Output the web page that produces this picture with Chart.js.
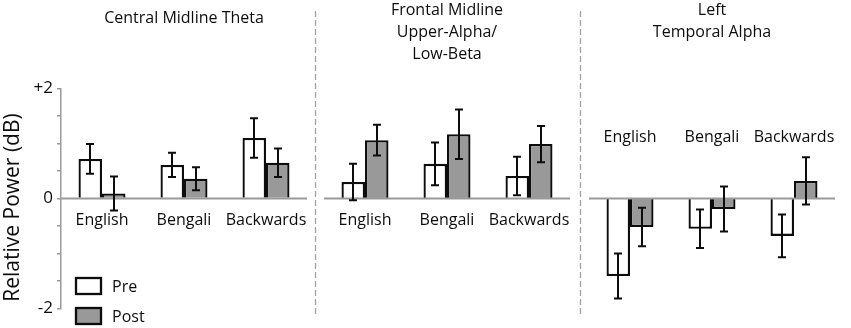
<!DOCTYPE html>
<html><head><meta charset="utf-8">
<script src="https://cdn.jsdelivr.net/npm/chart.js@4/dist/chart.umd.min.js"></script>
<style>
html,body{margin:0;padding:0;background:#fff;}
#wrap{position:relative;width:851px;height:328px;background:#fff;}
#wrap canvas{position:absolute;left:0;top:0;}
</style></head><body>
<div id="wrap">
<canvas id="c1" width="851" height="328"></canvas>
<canvas id="c2" width="851" height="328"></canvas>
<canvas id="c3" width="851" height="328"></canvas>
</div>
<script>
// ---- data ----
const categories = ['English', 'Bengali', 'Backwards'];
const seriesNames = ['Pre', 'Post'];
const panelTitles = [['Central Midline Theta'], ['Frontal Midline', 'Upper-Alpha/', 'Low-Beta'], ['Left', 'Temporal Alpha']];
const yAxisTitle = 'Relative Power (dB)';
const yTickLabels = { '2': '+2', '0': '0', '-2': '-2' };

const thetaPre = [0.72, 0.61, 1.10];
const thetaPreErr = [0.27, 0.22, 0.36];
const thetaPost = [0.09, 0.36, 0.65];
const thetaPostErr = [0.31, 0.21, 0.26];

const frontalPre = [0.30, 0.63, 0.41];
const frontalPreErr = [0.33, 0.39, 0.35];
const frontalPost = [1.06, 1.17, 0.99];
const frontalPostErr = [0.28, 0.45, 0.33];

const temporalPre = [-1.41, -0.55, -0.68];
const temporalPreErr = [0.41, 0.35, 0.39];
const temporalPost = [-0.52, -0.19, 0.32];
const temporalPostErr = [0.35, 0.41, 0.43];

// ---- styling ----
const FONT = "'Open Sans', 'Noto Sans', sans-serif";
const INK = '#0d0d0d';
const GRAY_FILL = '#999999';
const LINE_GRAY = '#9a9a9a';

Chart.defaults.font.family = FONT;
Chart.defaults.color = INK;

const errorBarsPlugin = {
  id: 'errorBars',
  afterDatasetsDraw(chart, args, o) {
    const ctx = chart.ctx, ys = chart.scales.y, area = chart.chartArea;
    const z = ys.getPixelForValue(0);
    ctx.save();
    ctx.strokeStyle = o.zeroColor; ctx.lineWidth = o.zeroWidth;
    ctx.beginPath(); ctx.moveTo(area.left, z); ctx.lineTo(area.right, z); ctx.stroke();
    ctx.strokeStyle = o.color; ctx.lineWidth = o.width; ctx.lineCap = 'butt';
    chart.data.datasets.forEach((ds, i) => {
      const meta = chart.getDatasetMeta(i);
      meta.data.forEach((bar, j) => {
        const v = ds.data[j], e = ds.errors[j];
        const t = ys.getPixelForValue(v + e), b = ys.getPixelForValue(v - e);
        const x = Math.round(bar.x);
        ctx.beginPath();
        ctx.moveTo(x, t); ctx.lineTo(x, b);
        ctx.moveTo(x - o.cap, t); ctx.lineTo(x + o.cap, t);
        ctx.moveTo(x - o.cap, b); ctx.lineTo(x + o.cap, b);
        ctx.stroke();
      });
    });
    ctx.restore();
  }
};

const separatorPlugin = {
  id: 'separator',
  afterDraw(chart, args, o) {
    if (!o.display) return;
    const ctx = chart.ctx;
    const x = chart.chartArea.left - o.offset;
    ctx.save();
    ctx.strokeStyle = o.color; ctx.lineWidth = o.width; ctx.setLineDash(o.dash);
    ctx.beginPath(); ctx.moveTo(x, o.top); ctx.lineTo(x, o.bottom); ctx.stroke();
    ctx.restore();
  }
};

const yTitlePlugin = {
  id: 'yTitle',
  afterDraw(chart, args, o) {
    if (!o.display) return;
    const ctx = chart.ctx, area = chart.chartArea;
    ctx.save();
    ctx.font = o.fontSize + 'px ' + FONT;
    ctx.fillStyle = INK;
    ctx.textAlign = 'center';
    ctx.textBaseline = 'middle';
    ctx.translate(o.x, (area.top + area.bottom) / 2 + o.shift);
    ctx.rotate(-Math.PI / 2);
    ctx.fillText(o.text, 0, 0);
    ctx.restore();
  }
};

const boxLegendPlugin = {
  id: 'boxLegend',
  afterDraw(chart, args, o) {
    if (!o.display) return;
    const ctx = chart.ctx;
    ctx.save();
    ctx.font = o.fontSize + 'px ' + FONT;
    ctx.textBaseline = 'middle';
    ctx.textAlign = 'left';
    chart.data.datasets.forEach((ds, i) => {
      const x = o.x, y = o.y + i * o.rowGap;
      ctx.fillStyle = ds.backgroundColor;
      ctx.fillRect(x, y, o.boxW, o.boxH);
      ctx.strokeStyle = ds.borderColor; ctx.lineWidth = ds.borderWidth;
      ctx.strokeRect(x + 1, y + 1, o.boxW - 2, o.boxH - 2);
      ctx.fillStyle = INK;
      ctx.fillText(ds.label, x + o.boxW + o.gap, y + o.boxH / 2 + 1);
    });
    ctx.restore();
  }
};

function makeDatasets(pre, preErr, post, postErr) {
  return [
    { label: seriesNames[0], data: pre, errors: preErr, backgroundColor: '#ffffff', borderColor: INK, borderWidth: 2.3,
      categoryPercentage: 0.573, barPercentage: 1.0 },
    { label: seriesNames[1], data: post, errors: postErr, backgroundColor: GRAY_FILL, borderColor: INK, borderWidth: 2.3,
      categoryPercentage: 0.573, barPercentage: 1.0 }
  ];
}

function makeChart(id, cfg) {
  const showY = !!cfg.showY;
  return new Chart(document.getElementById(id), {
    type: 'bar',
    data: { labels: categories, datasets: makeDatasets(...cfg.series) },
    plugins: [errorBarsPlugin, separatorPlugin, boxLegendPlugin, yTitlePlugin],
    options: {
      responsive: false,
      animation: false,
      devicePixelRatio: 1,
      layout: { padding: cfg.padding },
      scales: {
        x: {
          type: 'category',
          position: { y: cfg.labelAt },
          offset: true,
          grid: { display: false, drawTicks: false, tickLength: 0 },
          border: { display: false },
          ticks: { font: { size: 16 }, color: INK, padding: 12, maxRotation: 0, autoSkip: false }
        },
        y: {
          min: -2, max: 2,
          display: showY,
          afterFit: showY ? (s) => { s.width = 61; } : undefined,
          ticks: { stepSize: 0.5, autoSkip: false, font: { size: 17 }, color: INK, padding: 4,
                   callback: (v) => (yTickLabels[v] !== undefined ? yTickLabels[v] : '') },
          grid: { drawOnChartArea: false, drawTicks: true, tickLength: 4, color: LINE_GRAY, tickColor: LINE_GRAY, lineWidth: 1.5 },
          border: { display: true, color: LINE_GRAY, width: 1.5 },
          title: { display: false }
        }
      },
      plugins: {
        legend: { display: false },
        tooltip: { enabled: false },
        title: {
          display: true, text: cfg.title, fullSize: false, position: 'top',
          font: { size: 16, weight: 'normal', lineHeight: 1.35 }, color: INK,
          padding: cfg.titlePad
        },
        errorBars: { color: INK, width: 2, cap: 4, zeroColor: LINE_GRAY, zeroWidth: 2 },
        separator: { display: !!cfg.separator, offset: 8.5, top: 11, bottom: 315, color: '#a0a0a0', width: 1.3, dash: [6, 3] },
        boxLegend: { display: !!cfg.legend, x: 75, y: 277, boxW: 27, boxH: 18, rowGap: 30, gap: 10, fontSize: 16 },
        yTitle: { display: showY, text: yAxisTitle, x: 13, shift: 9, fontSize: 21 }
      }
    }
  });
}

makeChart('c1', {
  series: [thetaPre, thetaPreErr, thetaPost, thetaPostErr],
  title: panelTitles[0], titlePad: { top: 8, bottom: 58.9 },
  padding: { left: 0, right: 544, top: 0, bottom: 19.5 },
  showY: true, labelAt: 0, legend: true
});
makeChart('c2', {
  series: [frontalPre, frontalPreErr, frontalPost, frontalPostErr],
  title: panelTitles[1], titlePad: { top: 0, bottom: 23.7 },
  padding: { left: 324, right: 281, top: 0, bottom: 19.5 },
  labelAt: 0, separator: true
});
makeChart('c3', {
  series: [temporalPre, temporalPreErr, temporalPost, temporalPostErr],
  title: panelTitles[2], titlePad: { top: 0, bottom: 45.3 },
  padding: { left: 589, right: 16, top: 0, bottom: 19.5 },
  labelAt: 1.5, separator: true
});
</script>
</body></html>
